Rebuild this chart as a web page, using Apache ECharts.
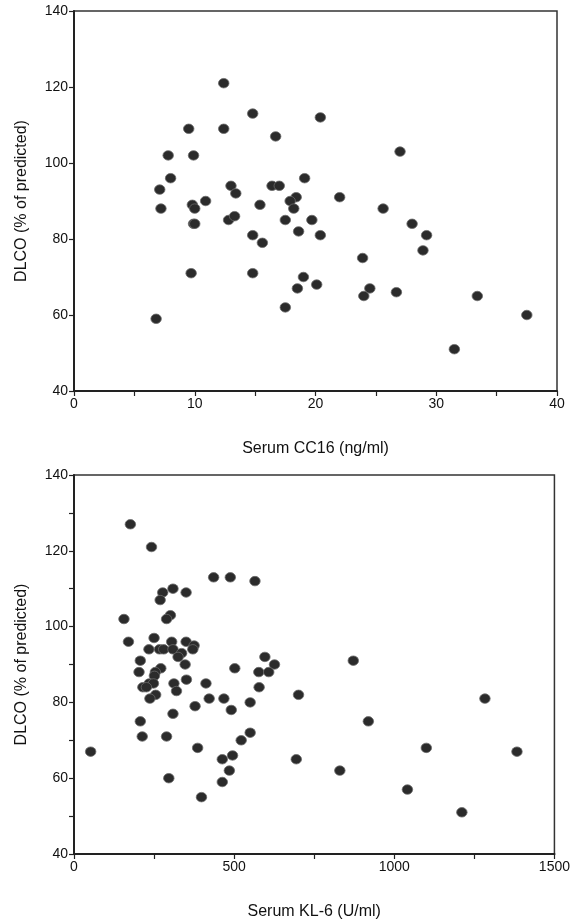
<!DOCTYPE html>
<html>
<head>
<meta charset="utf-8">
<script src="https://cdn.jsdelivr.net/npm/echarts@6/dist/echarts.min.js"></script>
<style>
html,body{margin:0;padding:0;background:#fff;}
#c{width:573px;height:923px;}
</style>
</head>
<body>
<div id="c"></div>
<script>
// Top panel: Serum CC16 (ng/ml) vs DLCO (% of predicted)
var cc16X = [12.4,14.8,20.4,9.5,12.4,16.7,7.8,9.9,8.0,19.1,7.1,13.0,13.4,16.4,17.0,22.0,18.4,17.9,18.2,7.2,9.8,10.0,10.9,9.9,10.0,15.4,12.8,13.3,17.5,19.7,18.6,20.4,14.8,15.6,9.7,14.8,19.0,18.5,20.1,17.5,6.8,27.0,25.6,28.0,29.2,28.9,23.9,24.5,24.0,26.7,33.4,37.5,31.5];
var cc16Y = [121,113,112,109,109,107,102,102,96,96,93,94,92,94,94,91,91,90,88,88,89,88,90,84,84,89,85,86,85,85,82,81,81,79,71,71,70,67,68,62,59,103,88,84,81,77,75,67,65,66,65,60,51];

// Bottom panel: Serum KL-6 (U/ml) vs DLCO (% of predicted)
var kl6X = [176,242,436,488,565,309,277,350,269,301,289,156,170,250,305,350,375,371,234,267,280,309,336,325,207,347,271,254,203,251,235,248,215,226,312,320,255,237,351,412,502,596,626,577,608,578,550,422,468,491,378,309,207,213,289,550,522,386,495,463,52,485,463,296,398,872,701,919,1100,694,830,1041,1283,1383,1211];
var kl6Y = [127,121,113,113,112,110,109,109,107,103,102,102,96,97,96,96,95,94,94,94,94,94,93,92,91,90,89,88,88,87,85,85,84,84,85,83,82,81,86,85,89,92,90,88,88,84,80,81,81,78,79,77,75,71,71,72,70,68,66,65,67,62,59,60,55,91,82,75,68,65,62,57,81,67,51];

var yTicks = [40,60,80,100,120,140];
var xTicksTop = [0,10,20,30,40];
var xTicksBottom = [0,500,1000,1500];

function pairs(xs, ys){ return xs.map(function(v,i){ return [v, ys[i]]; }); }

var axisColor = '#222';
var font = 'Liberation Sans, Arial, sans-serif';

function xAxis(gi, max, interval, labels, name){
  return {
    type:'value', gridIndex:gi, min:0, max:max, interval:interval,
    name:name, nameLocation:'middle', nameGap:50,
    nameTextStyle:{fontSize:16, color:'#111', fontFamily:font},
    axisLine:{show:true, onZero:false, lineStyle:{color:axisColor, width:2}},
    axisTick:{show:true, length:5, lineStyle:{color:axisColor, width:1.2}},
    axisLabel:{fontSize:14, color:'#111', fontFamily:font, margin:6,
      formatter:function(v){ return labels.indexOf(v) >= 0 ? String(v) : ''; }},
    splitLine:{show:false}
  };
}
function yAxis(gi, interval, name){
  return {
    type:'value', gridIndex:gi, min:40, max:140, interval:interval,
    name:name, nameLocation:'middle', nameGap:44,
    nameTextStyle:{fontSize:16, color:'#111', fontFamily:font},
    axisLine:{show:true, onZero:false, lineStyle:{color:axisColor, width:2}},
    axisTick:{show:true, length:5, lineStyle:{color:axisColor, width:1.2}},
    axisLabel:{fontSize:14, color:'#111', fontFamily:font, margin:6,
      formatter:function(v){ return yTicks.indexOf(v) >= 0 ? String(v) : ''; }},
    splitLine:{show:false}
  };
}
function series(gi, data){
  return {
    type:'scatter', xAxisIndex:gi, yAxisIndex:gi, data:data,
    symbol:'circle', symbolSize:[10.5,9.5],
    itemStyle:{color:'#2b2b2b', borderColor:'#6a6a6a', borderWidth:0.8, opacity:1},
    emphasis:{disabled:true}, animation:false
  };
}

var chart = echarts.init(document.getElementById('c'), null, {renderer:'canvas'});
chart.setOption({
  backgroundColor:'#fff',
  animation:false,
  grid:[
    {left:74, top:11, width:483, height:380, show:true, borderColor:'#333', borderWidth:1.5, backgroundColor:'transparent'},
    {left:74, top:475, width:484, height:379, show:true, borderColor:'#333', borderWidth:1.5, backgroundColor:'transparent'}
  ],
  xAxis:[
    xAxis(0, 40, 5, xTicksTop, 'Serum CC16 (ng/ml)'),
    xAxis(1, 1500, 250, xTicksBottom, 'Serum KL-6 (U/ml)')
  ],
  yAxis:[
    yAxis(0, 20, 'DLCO (% of predicted)'),
    yAxis(1, 10, 'DLCO (% of predicted)')
  ],
  series:[
    series(0, pairs(cc16X, cc16Y)),
    series(1, pairs(kl6X, kl6Y))
  ]
});
</script>
</body>
</html>
